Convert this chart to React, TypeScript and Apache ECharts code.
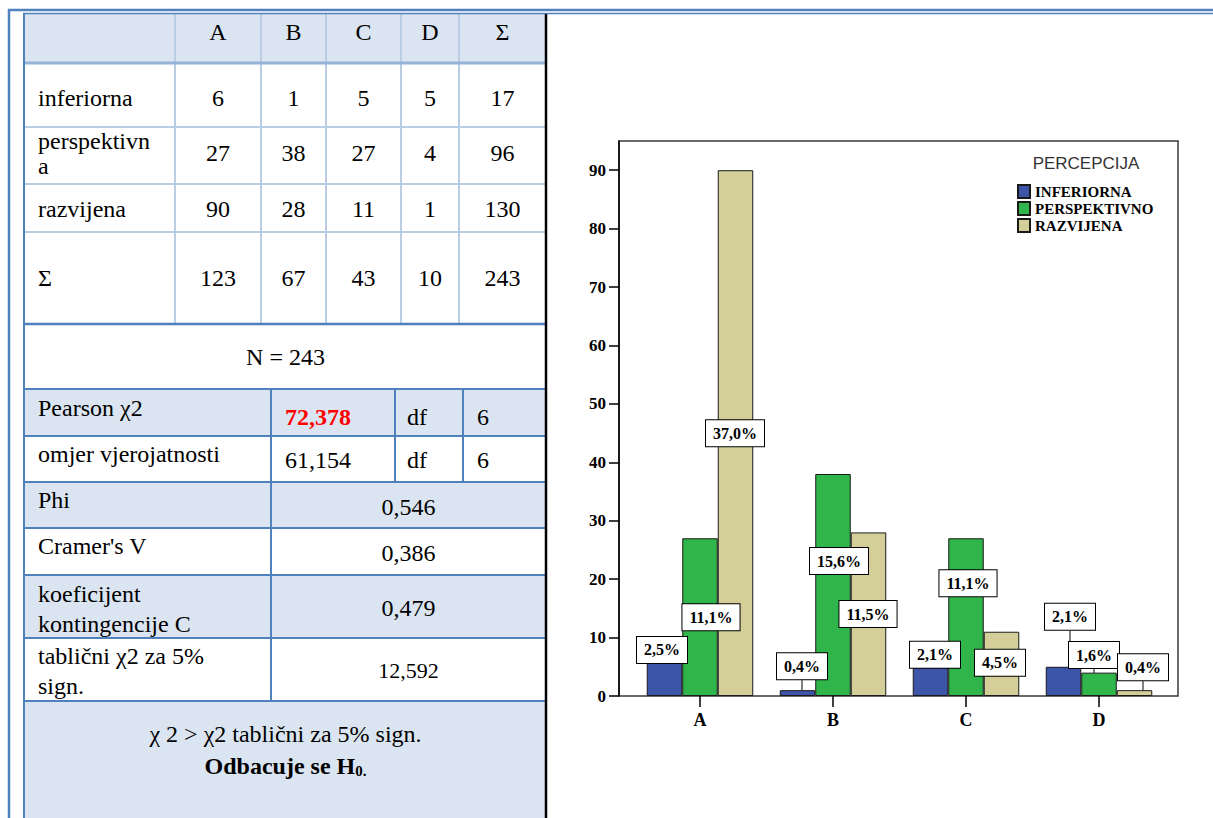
import React, { useEffect, useRef } from 'react';
import * as echarts from 'echarts';

// ---------- data ----------
const categories = ['A', 'B', 'C', 'D'];
const inferiorna = [6, 1, 5, 5];
const perspektivna = [27, 38, 27, 4];
const razvijena = [90, 28, 11, 1];
const seriesNames = ['INFERIORNA', 'PERSPEKTIVNO', 'RAZVIJENA'];
const tableRowLabels = [['inferiorna'], ['perspektivn', 'a'], ['razvijena']];
const sigma = 'Σ';
const nLabel = 'N = 243';
const pearsonValue = '72,378';
const omjerValue = '61,154';
const dfValue = '6';
const phiValue = '0,546';
const cramerValue = '0,386';
const koefValue = '0,479';
const tablicniValue = '12,592';
const yMax = 95;
const yInterval = 10;

// ---------- styles ----------
const SERIF = "'Liberation Serif', serif";
const SANS = "'Liberation Sans', sans-serif";
const BLUE = '#4f81bd';
const LIGHT_LINE = '#b8cce4';
const FILL = '#dbe5f1';
const BAR_COLORS = ['#3c55a8', '#2fb54a', '#d4cf99'];

// label offsets (dx, dy) per series / category
const labelOffsets = [
  [[-2.5, 2], [4.5, -11], [4.5, 1], [6.5, -37]],
  [[11, 92], [6, 100], [2, 58], [-5, -4.6]],
  [[-0.5, 276], [-0.5, 94.6], [-1.5, 44], [8.5, -10]],
];
const leaderLines = [
  [false, true, false, true],
  [false, false, false, true],
  [false, false, false, true],
];

const seriesData = [inferiorna, perspektivna, razvijena];
const rowTotals = seriesData.map((arr) => arr.reduce((a, b) => a + b, 0));
const colTotals = categories.map((_, i) => seriesData.reduce((a, arr) => a + arr[i], 0));
const grandTotal = rowTotals.reduce((a, b) => a + b, 0);

function txt(text: string, x: number, y: number, opts: any = {}) {
  return {
    type: 'text',
    x,
    y,
    silent: true,
    style: {
      text,
      fontFamily: opts.fontFamily || SERIF,
      fontSize: opts.fontSize || 24,
      fontWeight: opts.fontWeight || 'normal',
      fill: opts.fill || '#000',
      textAlign: opts.align || 'left',
      textVerticalAlign: 'middle',
    },
  };
}
function ln(x1: number, y1: number, x2: number, y2: number, stroke: string, lineWidth: number) {
  return { type: 'line', silent: true, shape: { x1, y1, x2, y2 }, style: { stroke, lineWidth } };
}
function rc(x: number, y: number, width: number, height: number, fill: string) {
  return { type: 'rect', silent: true, shape: { x, y, width, height }, style: { fill } };
}

function buildGraphic() {
  const g: any[] = [];
  const TL = 25;
  const TR = 546;
  const colX = [175, 261, 326, 401, 459];
  const colCenters = [218, 293.5, 363.5, 430, 502.5];
  const lowY = [324, 389, 436, 482, 528, 575, 638, 701, 818];

  // fills
  g.push(rc(TL, 14, TR - TL, 49, FILL));
  g.push(rc(TL, 389, TR - TL, 47, FILL));
  g.push(rc(TL, 482, TR - TL, 46, FILL));
  g.push(rc(TL, 575, TR - TL, 63, FILL));
  g.push(rc(TL, 701, TR - TL, 117, FILL));

  // upper table light lines
  [127, 184, 232].forEach((y) => g.push(ln(TL, y, TR, y, LIGHT_LINE, 2)));
  colX.forEach((x) => g.push(ln(x, 14, x, 324, LIGHT_LINE, 2)));
  g.push(ln(TL, 63, TR, 63, '#95b3d7', 3));
  g.push(ln(TL, 324, TR, 324, BLUE, 2.5));

  // lower table lines
  lowY.slice(1, 8).forEach((y) => g.push(ln(TL, y, TR, y, BLUE, 2)));
  g.push(ln(271, 389, 271, 701, BLUE, 2));
  g.push(ln(395, 389, 395, 482, BLUE, 2));
  g.push(ln(463, 389, 463, 482, BLUE, 2));

  // frame
  g.push(ln(8, 10, 1213, 10, BLUE, 2.5));
  g.push(ln(23, 13.5, 1213, 13.5, BLUE, 1.5));
  g.push(ln(9, 9, 9, 818, BLUE, 2.5));
  g.push(ln(24, 13, 24, 818, BLUE, 2));
  g.push(ln(546, 14, 546, 818, '#000', 2.5));

  // header
  categories.forEach((c, i) => g.push(txt(c, colCenters[i], 32, { align: 'center' })));
  g.push(txt(sigma, colCenters[4], 32, { align: 'center' }));

  // rows
  const rowTextY = [98, 153, 209];
  tableRowLabels.forEach((lines, r) => {
    if (lines.length === 1) g.push(txt(lines[0], 38, rowTextY[r]));
    else {
      g.push(txt(lines[0], 38, 141));
      g.push(txt(lines[1], 38, 166));
    }
    seriesData[r].forEach((v, i) => g.push(txt(String(v), colCenters[i], rowTextY[r], { align: 'center' })));
    g.push(txt(String(rowTotals[r]), colCenters[4], rowTextY[r], { align: 'center' }));
  });
  g.push(txt(sigma, 38, 278));
  colTotals.forEach((v, i) => g.push(txt(String(v), colCenters[i], 278, { align: 'center' })));
  g.push(txt(String(grandTotal), colCenters[4], 278, { align: 'center' }));

  // lower
  g.push(txt(nLabel, 285.5, 357, { align: 'center' }));
  g.push(txt('Pearson χ2', 38, 408));
  g.push(txt(pearsonValue, 285, 417, { fontWeight: 'bold', fill: '#ff0000' }));
  g.push(txt('df', 407, 417));
  g.push(txt(dfValue, 477, 417));
  g.push(txt('omjer vjerojatnosti', 38, 454));
  g.push(txt(omjerValue, 285, 460));
  g.push(txt('df', 407, 460));
  g.push(txt(dfValue, 477, 460));
  g.push(txt('Phi', 38, 500));
  g.push(txt(phiValue, 408.5, 507, { align: 'center' }));
  g.push(txt("Cramer's V", 38, 546));
  g.push(txt(cramerValue, 408.5, 553, { align: 'center' }));
  g.push(txt('koeficijent', 38, 594));
  g.push(txt('kontingencije C', 38, 624));
  g.push(txt(koefValue, 408.5, 608, { align: 'center' }));
  g.push(txt('tablični χ2 za 5%', 38, 656));
  g.push(txt('sign.', 38, 686));
  g.push(txt(tablicniValue, 408.5, 670, { align: 'center', fontSize: 22 }));
  g.push(txt('χ 2 > χ2 tablični za 5% sign.', 285.5, 734, { align: 'center' }));
  g.push({
    type: 'text',
    x: 285.5,
    y: 766,
    silent: true,
    style: {
      text: '{b|Odbacuje se H}{s|0.}',
      textAlign: 'center',
      textVerticalAlign: 'middle',
      rich: {
        b: { fontFamily: SERIF, fontSize: 24, fontWeight: 'bold', fill: '#000', color: '#000' },
        s: { fontFamily: SERIF, fontSize: 15, fontWeight: 'bold', fill: '#000', color: '#000', verticalAlign: 'bottom' },
      },
    },
  });

  // legend title
  g.push(txt('PERCEPCIJA', 1086, 163, { align: 'center', fontFamily: SANS, fontSize: 17, fill: '#333' }));
  return g;
}

export default function App() {
  const ref = useRef<HTMLDivElement>(null);
  useEffect(() => {
    if (!ref.current) return;
    const chart = echarts.init(ref.current, undefined, { renderer: 'svg' });
    const series = seriesData.map((arr, s) => ({
      name: seriesNames[s],
      type: 'bar',
      xAxisIndex: 0,
      yAxisIndex: 0,
      barWidth: 35.5,
      barGap: '0%',
      itemStyle: { color: BAR_COLORS[s], borderColor: '#1a1a1a', borderWidth: 1 },
      label: {
        show: true,
        position: 'top',
        distance: 0,
        formatter: (p: any) => ((p.value / grandTotal) * 100).toFixed(1).replace('.', ',') + '%',
        fontFamily: SERIF,
        fontWeight: 'bold',
        fontSize: 16,
        color: '#000',
        backgroundColor: '#fff',
        borderColor: '#000',
        borderWidth: 1,
        padding: [5, 7],
      },
      labelLine: { show: false, lineStyle: { color: '#000', width: 1 } },
      labelLayout: (params: any) => {
        const o = labelOffsets[s][params.dataIndex];
        return { dx: o[0], dy: o[1] };
      },
      data: arr.map((v, i) => ({
        value: v,
        labelLine: { show: leaderLines[s][i], lineStyle: { color: '#000', width: 1 } },
      })),
    }));
    chart.setOption({
      animation: false,
      backgroundColor: '#fff',
      grid: [
        { left: 633.5, top: 141, width: 532, height: 555, containLabel: false },
        { left: 619, top: 141, width: 559, height: 555, show: true, borderColor: '#3a3a3a', borderWidth: 1.5, backgroundColor: 'transparent' },
      ],
      xAxis: [
        {
          type: 'category',
          gridIndex: 0,
          data: categories,
          axisLine: { show: false },
          axisTick: { show: true, alignWithLabel: true, length: 11, lineStyle: { color: '#000', width: 1.5 } },
          axisLabel: { fontFamily: SERIF, fontWeight: 'bold', fontSize: 18, color: '#000', margin: 15 },
          splitLine: { show: false },
        },
        { type: 'value', gridIndex: 1, show: false },
      ],
      yAxis: [
        { type: 'value', gridIndex: 0, min: 0, max: yMax, interval: yInterval, show: false, splitLine: { show: false } },
        {
          type: 'value',
          gridIndex: 1,
          min: 0,
          max: yMax,
          interval: yInterval,
          axisLine: { show: true, lineStyle: { color: '#000', width: 1.5 } },
          axisTick: { show: true, length: 10, lineStyle: { color: '#000', width: 1.5 } },
          axisLabel: {
            fontFamily: SERIF,
            fontWeight: 'bold',
            fontSize: 17,
            color: '#000',
            margin: 13,
            showMaxLabel: false,
            formatter: (v: number) => (v % 10 === 0 && v <= 90 ? String(v) : ''),
          },
          splitLine: { show: false },
        },
      ],
      legend: {
        data: seriesNames,
        orient: 'vertical',
        left: 1017,
        top: 184,
        padding: 0,
        itemWidth: 12,
        itemHeight: 13,
        itemGap: 2,
        icon: 'rect',
        textStyle: { fontFamily: SERIF, fontWeight: 'bold', fontSize: 15, color: '#000' },
        selectedMode: false,
      },
      graphic: buildGraphic(),
      series,
    });
    return () => chart.dispose();
  }, []);
  return <div ref={ref} style={{ position: 'fixed', left: 0, top: 0, width: 1213, height: 818 }} />;
}
